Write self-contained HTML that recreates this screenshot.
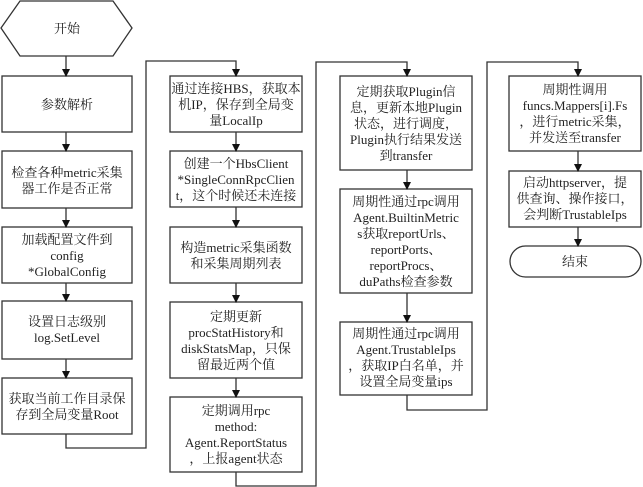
<!DOCTYPE html>
<html><head><meta charset="utf-8"><style>
html,body{margin:0;padding:0;background:#fff;}
svg{display:block;}
text{font-family:"Liberation Serif","Noto Serif CJK SC",serif;font-size:13px;fill:#222;}
</style></head><body>
<svg width="643" height="487" viewBox="0 0 643 487" xmlns="http://www.w3.org/2000/svg">
<defs>
<marker id="a" markerWidth="8" markerHeight="8" refX="7" refY="4" orient="auto" markerUnits="userSpaceOnUse">
<path d="M0,0 L8,4 L0,8 Z" fill="#111"/></marker>
</defs>
<g fill="none" stroke="#333" stroke-width="1.3">
<polygon points="1,28 20,1 113,1 132,28 113,56 20,56" fill="#fff"/>
<rect x="2" y="76" width="130" height="56"/>
<rect x="2" y="151" width="130" height="57"/>
<rect x="2" y="227" width="130" height="56"/>
<rect x="2" y="301" width="130" height="58"/>
<rect x="2" y="378" width="130" height="56"/>
<rect x="170" y="76" width="132" height="56"/>
<rect x="170" y="151" width="132" height="56"/>
<rect x="170" y="227" width="132" height="56"/>
<rect x="170" y="302" width="132" height="76"/>
<rect x="170" y="397" width="132" height="75"/>
<rect x="340" y="76" width="132" height="94"/>
<rect x="340" y="189" width="132" height="104"/>
<rect x="340" y="322" width="132" height="73"/>
<rect x="509" y="76" width="132" height="75"/>
<rect x="509" y="171" width="132" height="56"/>
<rect x="510" y="246" width="131" height="31" rx="15.5"/>
<g marker-end="url(#a)">
<line x1="66" y1="56" x2="66" y2="76"/>
<line x1="66" y1="132" x2="66" y2="151"/>
<line x1="66" y1="208" x2="66" y2="227"/>
<line x1="66" y1="283" x2="66" y2="301"/>
<line x1="66" y1="359" x2="66" y2="378"/>
<polyline points="66,434 66,448 146,448 146,61 236,61 236,76"/>
<line x1="236" y1="132" x2="236" y2="151"/>
<line x1="236" y1="207" x2="236" y2="227"/>
<line x1="236" y1="283" x2="236" y2="302"/>
<line x1="236" y1="378" x2="236" y2="397"/>
<polyline points="236,472 236,486 316,486 316,62 407,62 407,76"/>
<line x1="407" y1="170" x2="407" y2="189"/>
<line x1="407" y1="293" x2="407" y2="322"/>
<polyline points="407,395 407,410 487,410 487,62 578,62 578,76"/>
<line x1="578" y1="151" x2="578" y2="171"/>
<line x1="578" y1="227" x2="578" y2="246"/>
</g>
</g>
<g text-anchor="middle">
<text x="67" y="33">开始</text>
<text x="67" y="109">参数解析</text>
<text x="67" y="177">检查各种metric采集</text><text x="67" y="193">器工作是否正常</text>
<text x="67" y="244">加载配置文件到</text><text x="67" y="260">config</text><text x="67" y="276">*GlobalConfig</text>
<text x="67" y="326">设置日志级别</text><text x="67" y="342">log.SetLevel</text>
<text x="67" y="403">获取当前工作目录保</text><text x="67" y="419">存到全局变量Root</text>

<text x="236" y="93">通过连接HBS，获取本</text><text x="236" y="109">机IP，保存到全局变</text><text x="236" y="125">量LocalIp</text>
<text x="236" y="168">创建一个HbsClient</text><text x="236" y="184">*SingleConnRpcClien</text><text x="236" y="200">t，这个时候还未连接</text>
<text x="236" y="252">构造metric采集函数</text><text x="236" y="268">和采集周期列表</text>
<text x="236" y="321">定期更新</text><text x="236" y="337">procStatHistory和</text><text x="236" y="353">diskStatsMap，只保</text><text x="236" y="369">留最近两个值</text>
<text x="236" y="415">定期调用rpc</text><text x="236" y="431">method:</text><text x="236" y="447">Agent.ReportStatus</text><text x="236" y="463">，上报agent状态</text>

<text x="406" y="96">定期获取Plugin信</text><text x="406" y="112">息，更新本地Plugin</text><text x="406" y="128">状态，进行调度，</text><text x="406" y="144">Plugin执行结果发送</text><text x="406" y="160">到transfer</text>
<text x="406" y="206">周期性通过rpc调用</text><text x="406" y="222">Agent.BuiltinMetric</text><text x="406" y="238">s获取reportUrls、</text><text x="406" y="254">reportPorts、</text><text x="406" y="270">reportProcs、</text><text x="406" y="286">duPaths检查参数</text>
<text x="406" y="338">周期性通过rpc调用</text><text x="406" y="354">Agent.TrustableIps</text><text x="406" y="370">，获取IP白名单，并</text><text x="406" y="386">设置全局变量ips</text>

<text x="575" y="94">周期性调用</text><text x="575" y="110">funcs.Mappers[i].Fs</text><text x="575" y="126">，进行metric采集，</text><text x="575" y="142">并发送至transfer</text>
<text x="575" y="187">启动httpserver，提</text><text x="575" y="203">供查询、操作接口，</text><text x="575" y="219">会判断TrustableIps</text>
<text x="575" y="266">结束</text>
</g>
</svg>
</body></html>
